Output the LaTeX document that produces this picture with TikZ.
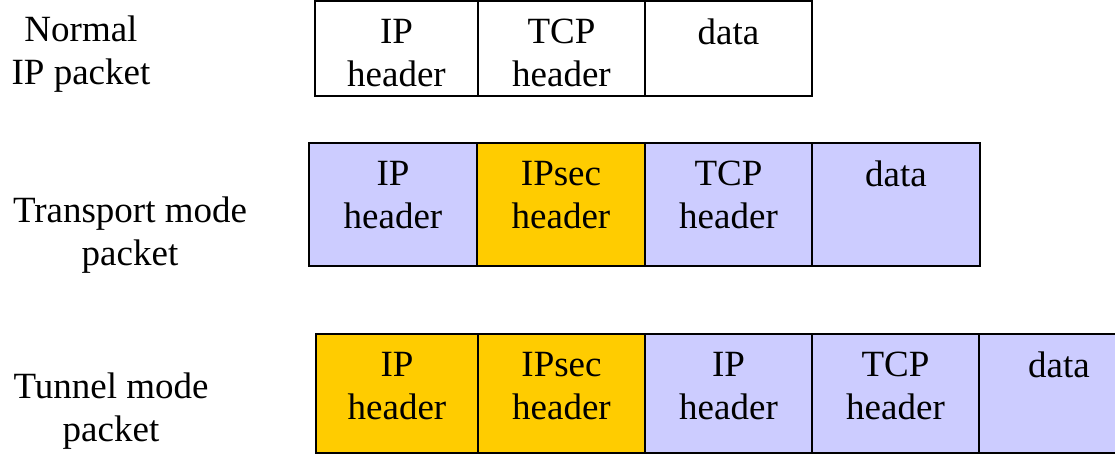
\documentclass[tikz,border=0pt]{standalone}
\usepackage{fontspec}
\setmainfont{Liberation Serif}
\usetikzlibrary{positioning}
\definecolor{HdrGold}{HTML}{FFCC00}
\definecolor{HdrLilac}{HTML}{CCCCFF}

\begin{document}
\begin{tikzpicture}[x=1pt,y=-1pt,
    font=\fontsize{37}{43}\selectfont,
    field color/.code={\colorlet{fieldcolor}{#1}},
    field color=white,
    field/.style args={#1 by #2}{%
            draw,line width=1.6pt,fill=fieldcolor,
            minimum width=#1pt,minimum height=#2pt,
            inner sep=0pt,outer sep=0pt,anchor=north west},
    caption/.style={align=center,inner sep=0pt,anchor=north},
    says/.style={label={[caption,yshift=-18pt]north:{#1}}}]
    \useasboundingbox (0,0) rectangle (1115,454);
    % titles on the left
    \path (81,16) node[caption] (tnormal) {Normal\\IP packet}
          (130,197) node[caption] (ttransport) {Transport mode\\packet}
          (111,373) node[caption] (ttunnel) {Tunnel mode\\packet};
    % normal IP packet
    \path (315,1) node[field=163 by 95,says={IP\\header}] (nip) {}
          node[field=167 by 95,says={TCP\\header},right=0pt of nip] (ntcp) {}
          node[field=167 by 95,says=data,right=0pt of ntcp] (ndata) {};
    % transport mode
    \path (309,143) node[field color=HdrLilac,field=168 by 123,
                         says={IP\\header}] (rip) {}
          node[field color=HdrGold,field=168 by 123,says={IPsec\\header},
               right=0pt of rip] (rsec) {}
          node[field color=HdrLilac,field=167 by 123,says={TCP\\header},
               right=0pt of rsec] (rtcp) {}
          node[field color=HdrLilac,field=168 by 123,says=data,
               right=0pt of rtcp] (rdata) {};
    % tunnel mode
    \path (316,334) node[field color=HdrGold,field=162 by 119,
                         says={IP\\header}] (uip) {}
          node[field color=HdrGold,field=167 by 119,says={IPsec\\header},
               right=0pt of uip] (usec) {}
          node[field color=HdrLilac,field=167 by 119,says={IP\\header},
               right=0pt of usec] (uinner) {}
          node[field color=HdrLilac,field=167 by 119,says={TCP\\header},
               right=0pt of uinner] (utcp) {}
          node[field color=HdrLilac,field=160 by 119,says=data,
               right=0pt of utcp] (udata) {};
\end{tikzpicture}
\end{document}
